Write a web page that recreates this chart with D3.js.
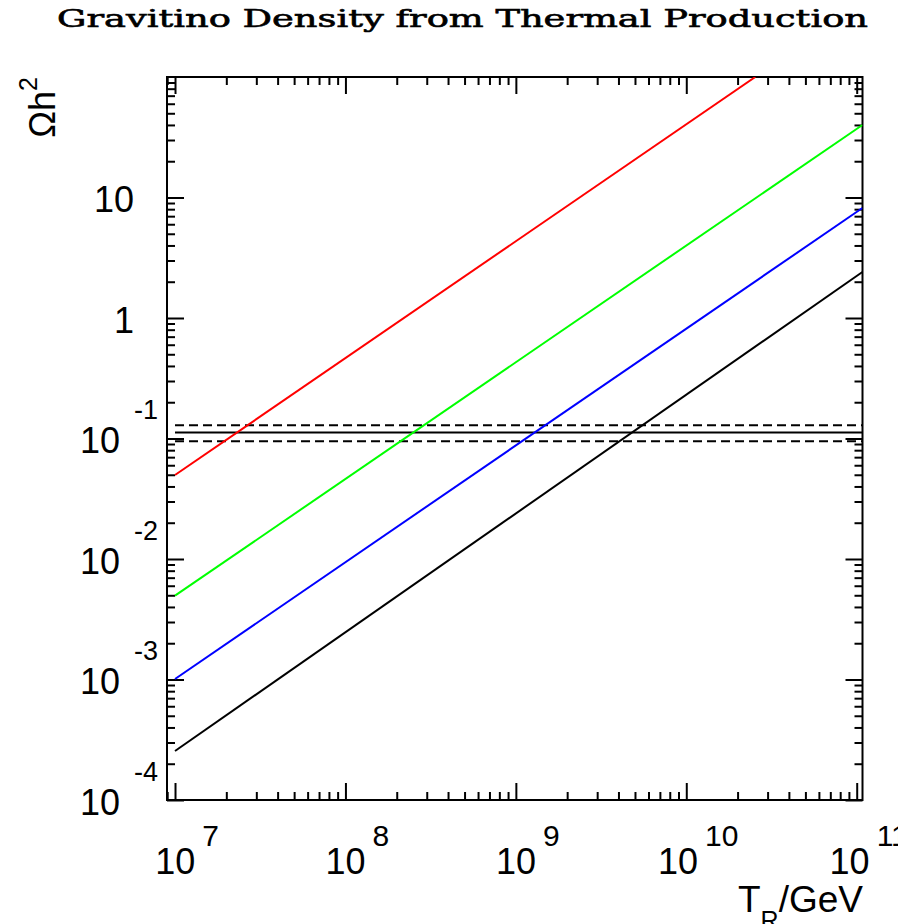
<!DOCTYPE html>
<html>
<head>
<meta charset="utf-8">
<script src="https://cdn.jsdelivr.net/npm/d3@7"></script>
<style>
  body { margin: 0; background: #fff; }
  text { font-family: "Liberation Sans", Arial, sans-serif; }
</style>
</head>
<body>
<svg id="chart" width="898" height="924"></svg>
<script>
// data
const curveColors = ["#ff0000", "#00ff00", "#0000ff", "#000000"]
const curveTR = [[1e7, 2.54e10], [1e7, 1.08e11], [1e7, 1.08e11], [1e7, 1.08e11]]
const curveOmega = [[0.0498, 100], [0.00496, 40.0], [0.00101, 8.18], [0.000255, 2.41]]

const bandTR = [1e7, 1.08e11]
const omegaObs = 0.112
const omegaObsLow = 0.095
const omegaObsHigh = 0.129

const xMajor = [1e7, 1e8, 1e9, 1e10, 1e11]
const xLabelExp = ["7", "8", "9", "10", "11"]
const yMajor = [1e-4, 1e-3, 1e-2, 1e-1, 1, 10]
const yLabelBase = ["10", "10", "10", "10", "1", "10"]
const yLabelExp = ["-4", "-3", "-2", "-1", "", ""]

const svg = d3.select("#chart")

const pLeft = 167, pRight = 862.5, pTop = 77, pBottom = 800
const x = d3.scaleLog().domain([Math.pow(10, 6.953), Math.pow(10, 11.034)]).range([pLeft, pRight])
const y = d3.scaleLog().domain([1e-4, 1e2]).range([pBottom, pTop])

// minor ticks 2..9 per decade
let minor = (lo, hi, dom) => {
    let out = []
    for (let e = lo; e <= hi; e++) {
        for (let k = 2; k <= 9; k++) {
            let v = k * Math.pow(10, e)
            if (v > dom[0] && v < dom[1]) out.push(v)
        }
    }
    return out
}
const xMinor = minor(6, 11, x.domain())
const yMinor = minor(-4, 2, y.domain())

// clip
svg.append("clipPath").attr("id", "clip")
    .append("rect")
    .attr("x", pLeft).attr("y", pTop)
    .attr("width", pRight - pLeft).attr("height", pBottom - pTop)

// axes: ticks inward on all four sides
let drawAxis = (axisFn, scale, tr, values, size) => {
    let g = svg.append("g")
        .attr("transform", tr)
        .call(axisFn(scale).tickValues(values).tickSize(-size).tickSizeOuter(0).tickFormat(""))
    g.select(".domain").remove()
    g.selectAll(".tick line").attr("stroke", "#000").attr("stroke-width", 2)
}
drawAxis(d3.axisBottom, x, "translate(0," + pBottom + ")", xMajor, 17)
drawAxis(d3.axisBottom, x, "translate(0," + pBottom + ")", xMinor, 8)
drawAxis(d3.axisTop, x, "translate(0," + pTop + ")", xMajor, 17)
drawAxis(d3.axisTop, x, "translate(0," + pTop + ")", xMinor, 8)
drawAxis(d3.axisLeft, y, "translate(" + pLeft + ",0)", yMajor, 17)
drawAxis(d3.axisLeft, y, "translate(" + pLeft + ",0)", yMinor, 8)
drawAxis(d3.axisRight, y, "translate(" + pRight + ",0)", yMajor, 17)
drawAxis(d3.axisRight, y, "translate(" + pRight + ",0)", yMinor, 8)

// frame
svg.append("rect")
    .attr("x", pLeft).attr("y", pTop)
    .attr("width", pRight - pLeft).attr("height", pBottom - pTop)
    .attr("fill", "none").attr("stroke", "#000").attr("stroke-width", 2)

// observed band
let line = d3.line().x(d => x(d[0])).y(d => y(d[1]))
let band = svg.append("g").attr("clip-path", "url(#clip)")
band.append("path")
    .attr("d", line(bandTR.map(t => [t, omegaObs])))
    .attr("fill", "none").attr("stroke", "#000").attr("stroke-width", 2)
;[omegaObsLow, omegaObsHigh].forEach(v => {
    band.append("path")
        .attr("d", line(bandTR.map(t => [t, v])))
        .attr("fill", "none").attr("stroke", "#000").attr("stroke-width", 2)
        .attr("stroke-dasharray", "9,5")
})

// curves
let curves = svg.append("g").attr("clip-path", "url(#clip)")
curveColors.forEach((c, i) => {
    curves.append("path")
        .attr("d", line(d3.zip(curveTR[i], curveOmega[i])))
        .attr("fill", "none").attr("stroke", c).attr("stroke-width", 2)
})

// x tick labels
xMajor.forEach((v, i) => {
    let t = svg.append("text")
        .attr("x", x(v) + 12).attr("y", 874)
        .attr("text-anchor", "middle")
        .style("font-size", "36px")
    t.append("tspan").text("10")
    t.append("tspan").attr("dx", 7).attr("dy", -28).style("font-size", "30px").text(xLabelExp[i])
})

// y tick labels
yMajor.forEach((v, i) => {
    let t = svg.append("text")
        .attr("y", y(v) + 14.7)
        .attr("text-anchor", "end")
        .style("font-size", "36px")
    if (yLabelExp[i] === "") {
        t.attr("x", 134).text(yLabelBase[i])
    } else {
        t.attr("x", 158)
        t.append("tspan").text(yLabelBase[i])
        t.append("tspan").attr("dx", 14).attr("dy", -34).style("font-size", "27px").text(yLabelExp[i])
    }
})

// axis titles
let yt = svg.append("text")
    .attr("transform", "translate(55," + pTop + ") rotate(-90)")
    .attr("text-anchor", "end")
    .style("font-size", "36px")
yt.append("tspan").text("\u03A9h")
yt.append("tspan").attr("dy", -18).style("font-size", "25px").text("2")

let xt = svg.append("text")
    .attr("x", 863).attr("y", 912)
    .attr("text-anchor", "end")
    .style("font-size", "37px")
xt.append("tspan").text("T")
xt.append("tspan").attr("dy", 17).style("font-size", "25px").text("R")
xt.append("tspan").attr("dy", -17).text("/GeV")

// title
svg.append("text")
    .attr("x", 57).attr("y", 27)
    .attr("textLength", 811).attr("lengthAdjust", "spacingAndGlyphs")
    .style("font-family", "'DejaVu Serif', serif")
    .style("font-size", "24px")
    .style("stroke", "#000").style("stroke-width", 0.6)
    .text("Gravitino Density from Thermal Production")
</script>
</body>
</html>
